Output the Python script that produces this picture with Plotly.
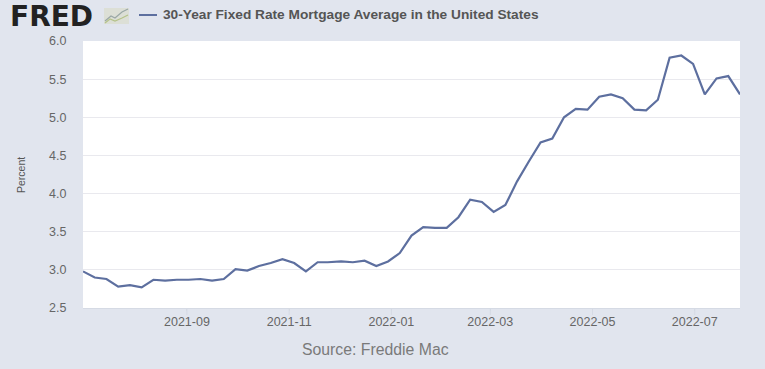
import plotly.graph_objects as go

dates = ["2021-07-01","2021-07-08","2021-07-15","2021-07-22","2021-07-29","2021-08-05","2021-08-12","2021-08-19","2021-08-26",
"2021-09-02","2021-09-09","2021-09-16","2021-09-23","2021-09-30","2021-10-07","2021-10-14","2021-10-21","2021-10-28",
"2021-11-04","2021-11-11","2021-11-18","2021-11-24","2021-12-02","2021-12-09","2021-12-16","2021-12-23","2021-12-30",
"2022-01-06","2022-01-13","2022-01-20","2022-01-27","2022-02-03","2022-02-10","2022-02-17","2022-02-24",
"2022-03-03","2022-03-10","2022-03-17","2022-03-24","2022-03-31","2022-04-07","2022-04-14","2022-04-21","2022-04-28",
"2022-05-05","2022-05-12","2022-05-19","2022-05-26","2022-06-02","2022-06-09","2022-06-16","2022-06-23","2022-06-30",
"2022-07-07","2022-07-14","2022-07-21","2022-07-28"]
rates = [2.98,2.90,2.88,2.78,2.80,2.77,2.87,2.86,2.87,
2.87,2.88,2.86,2.88,3.01,2.99,3.05,3.09,3.14,
3.09,2.98,3.10,3.10,3.11,3.10,3.12,3.05,3.11,
3.22,3.45,3.56,3.55,3.55,3.69,3.92,3.89,
3.76,3.85,4.16,4.42,4.67,4.72,5.00,5.11,5.10,
5.27,5.30,5.25,5.10,5.09,5.23,5.78,5.81,5.70,
5.30,5.51,5.54,5.30]
x_ticks = ["2021-09-01","2021-11-01","2022-01-01","2022-03-01","2022-05-01","2022-07-01"]
x_labels = ["2021-09","2021-11","2022-01","2022-03","2022-05","2022-07"]
y_ticks = [2.5,3.0,3.5,4.0,4.5,5.0,5.5,6.0]
series_name = "30-Year Fixed Rate Mortgage Average in the United States"

W, H = 765, 369
L, R, T, B = 83, 740, 41, 308
BG = "#e1e5ee"
LINE = "#5d6f9f"
FONT = "Liberation Sans, Arial, sans-serif"
px = lambda v: (v - L) / (R - L)
py = lambda v: (B - v) / (B - T)

fig = go.Figure(go.Scatter(x=dates, y=rates, mode="lines", name=series_name,
                           line=dict(color=LINE, width=2.2), showlegend=False,
                           hovertemplate="%{x}: %{y}<extra></extra>"))

spark1 = "M %f %f L %f %f L %f %f L %f %f L %f %f" % (px(105),py(21),px(111),py(16),px(115),py(18),px(122),py(12),px(128),py(9))
spark2 = "M %f %f L %f %f L %f %f L %f %f L %f %f" % (px(105),py(23),px(110),py(19),px(115),py(21),px(122),py(18),px(128),py(15))
shapes = [
    dict(type="rect", xref="paper", yref="paper", x0=px(104), x1=px(129), y0=py(24), y1=py(8),
         fillcolor="#dcdfd6", line=dict(width=0), layer="below"),
    dict(type="path", xref="paper", yref="paper", path=spark1, line=dict(color="#9aa7a6", width=1.2)),
    dict(type="path", xref="paper", yref="paper", path=spark2, line=dict(color="#b5c28a", width=1.2)),
    dict(type="line", xref="paper", yref="paper", x0=px(139), x1=px(157), y0=py(15), y1=py(15),
         line=dict(color=LINE, width=2)),
]
shapes += [dict(type="line", xref="x", yref="paper", x0=d, x1=d, y0=0, y1=py(315),
                line=dict(color="#d5dae4", width=1)) for d in x_ticks]
annotations = [
    dict(text="<b>FRED</b>", xref="paper", yref="paper", x=px(8), y=py(16), xanchor="left", yanchor="middle",
         showarrow=False, font=dict(family="DejaVu Sans", size=28, color="#222222")),
    dict(text="<b>" + series_name + "</b>", xref="paper", yref="paper", x=px(161), y=py(15), xanchor="left",
         yanchor="middle", showarrow=False, font=dict(family=FONT, size=13.7, color="#555555")),
    dict(text="Source: Freddie Mac", xref="paper", yref="paper", x=px(375), y=py(349), xanchor="center",
         yanchor="middle", showarrow=False, font=dict(family=FONT, size=15.8, color="#7a7a7a")),
    dict(text="Percent", xref="paper", yref="paper", x=px(21), y=py(175), xanchor="center", yanchor="middle",
         textangle=-90, showarrow=False, font=dict(family=FONT, size=10.5, color="#555555")),
]

fig.update_layout(
    width=W, height=H, autosize=False,
    margin=dict(l=L, r=W - R, t=T, b=H - B),
    paper_bgcolor=BG, plot_bgcolor="white",
    shapes=shapes, annotations=annotations,
    font=dict(family=FONT, size=11, color="#666666"),
    xaxis=dict(range=[dates[0], dates[-1]], tickmode="array", tickvals=x_ticks, ticktext=x_labels,
               showgrid=False, ticks="outside", ticklen=2, tickcolor="#d5dae4", tickwidth=1,
               showline=True, linecolor="#d5dae4", linewidth=1, zeroline=False,
               tickfont=dict(family=FONT, size=12.5, color="#666666")),
    yaxis=dict(range=[2.5, 6.0], tickmode="array", tickvals=y_ticks, ticktext=["%.1f" % v for v in y_ticks],
               showgrid=True, gridcolor="#e9e9ee", gridwidth=1, zeroline=False, ticks="outside", ticklen=13,
               tickcolor="rgba(0,0,0,0)", showline=False,
               tickfont=dict(family=FONT, size=12.5, color="#666666")),
)
fig.write_html("out.html", config={"displayModeBar": False},
               post_script="document.body.style.margin='0';document.body.style.background='%s';" % BG)
